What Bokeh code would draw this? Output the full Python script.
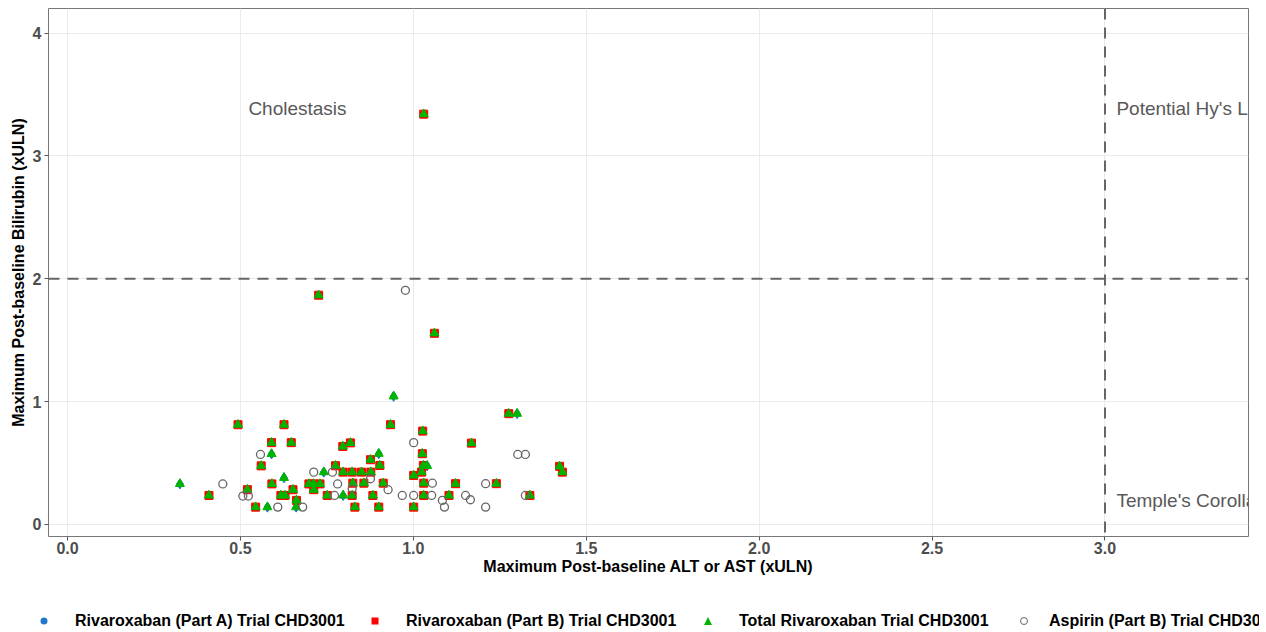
from bokeh.plotting import figure
from bokeh.layouts import column
from bokeh.models import Range1d, FixedTicker, NumeralTickFormatter, Span, Div
from bokeh.core.properties import value
from bokeh.embed import file_html
from bokeh.resources import INLINE

# ---------------- data ----------------
part_b_x = [1.03, 0.726, 1.061, 0.493, 0.626, 0.59, 0.647, 0.56, 0.409, 0.52, 0.591, 0.652,
            0.617, 0.629, 0.662, 0.544, 0.775, 0.797, 0.796, 0.818, 0.698, 0.712, 0.73, 0.712,
            0.751, 0.934, 1.027, 0.876, 1.026, 0.903, 1.029, 0.823, 0.85, 0.877, 1.001, 1.024,
            0.825, 0.857, 0.913, 1.03, 0.823, 0.883, 1.03, 0.831, 0.9, 1.001, 1.276, 1.168,
            1.423, 1.431, 1.122, 1.24, 1.103, 1.337]
part_b_y = [3.34, 1.866, 1.556, 0.812, 0.812, 0.666, 0.666, 0.477, 0.236, 0.283, 0.33, 0.283,
            0.236, 0.236, 0.196, 0.141, 0.478, 0.426, 0.635, 0.664, 0.33, 0.33, 0.33, 0.283,
            0.236, 0.812, 0.76, 0.527, 0.576, 0.48, 0.48, 0.426, 0.426, 0.426, 0.399, 0.426,
            0.336, 0.336, 0.336, 0.336, 0.236, 0.236, 0.236, 0.141, 0.141, 0.141, 0.902, 0.662,
            0.473, 0.426, 0.332, 0.332, 0.236, 0.236]

part_a_x = [0.943, 1.3, 0.59, 0.325, 0.626, 0.578, 0.661, 0.741, 0.9, 0.797, 1.04]
part_a_y = [1.043, 0.902, 0.574, 0.33, 0.38, 0.141, 0.141, 0.426, 0.576, 0.236, 0.477]

aspirin_x = [0.977, 0.558, 0.449, 0.507, 0.523, 0.608, 0.68, 0.712, 0.766, 0.781, 0.772, 1.001,
             0.876, 1.055, 0.823, 0.927, 0.968, 1.001, 1.053, 1.302, 1.324, 1.209, 1.151,
             1.165, 1.084, 1.09, 1.209, 1.324]
aspirin_y = [1.906, 0.57, 0.33, 0.231, 0.231, 0.141, 0.141, 0.426, 0.426, 0.33, 0.236, 0.666,
             0.372, 0.336, 0.291, 0.283, 0.236, 0.236, 0.236, 0.57, 0.57, 0.332, 0.236,
             0.201, 0.196, 0.141, 0.141, 0.236]

total_x = part_a_x + part_b_x
total_y = part_a_y + part_b_y

series_names = ["Rivaroxaban (Part A) Trial CHD3001", "Rivaroxaban (Part B) Trial CHD3001",
                "Total Rivaroxaban Trial CHD3001", "Aspirin (Part B) Trial CHD3001"]

x_ticks = [0.0, 0.5, 1.0, 1.5, 2.0, 2.5, 3.0]
y_ticks = [0, 1, 2, 3, 4]
alt_limit = 3.0
bili_limit = 2.0

quad_labels = ["Cholestasis", "Potential Hy's Law", "Temple's Corollary"]
quad_x = [0.523, 3.033, 3.033]
quad_y = [3.39, 3.39, 0.196]

FONT = "Liberation Sans"
BLUE, RED, GREEN, GREY = "#1F78C8", "#FF0000", "#00B400", "#666666"
W = 1262

# ---------------- main figure ----------------
p = figure(width=W, height=584, output_backend="svg", toolbar_location=None,
           x_range=Range1d(-0.055, 3.415), y_range=Range1d(-0.098, 4.20),
           min_border_left=48, min_border_right=W - 1248, min_border_top=8, min_border_bottom=48)
p.background_fill_color = "white"
p.border_fill_color = "white"
p.outline_line_color = "#777777"
p.outline_line_width = 1

p.xgrid.grid_line_color = "#EBEBEB"
p.ygrid.grid_line_color = "#EBEBEB"

for ax in (p.xaxis[0], p.yaxis[0]):
    ax.axis_line_color = None
    ax.major_tick_line_color = "#555555"
    ax.major_tick_out = 4
    ax.major_tick_in = 0
    ax.minor_tick_line_color = None
    ax.major_label_text_font = FONT
    ax.major_label_text_font_style = "bold"
    ax.major_label_text_font_size = "16px"
    ax.major_label_text_color = "#4D4D4D"
    ax.axis_label_text_font = FONT
    ax.axis_label_text_font_style = "bold"
    ax.axis_label_text_font_size = "16px"
    ax.axis_label_text_color = "black"

p.xaxis.ticker = FixedTicker(ticks=x_ticks)
p.xaxis.formatter = NumeralTickFormatter(format="0.0")
p.yaxis.ticker = FixedTicker(ticks=y_ticks)
p.xaxis.axis_label = "Maximum Post-baseline ALT or AST (xULN)"
p.yaxis.axis_label = "Maximum Post-baseline Bilirubin (xULN)"
p.xaxis.major_label_standoff = 1
p.xaxis.axis_label_standoff = 1
p.yaxis.major_label_standoff = 3
p.yaxis.axis_label_standoff = 3

# reference lines
p.add_layout(Span(location=bili_limit, dimension="width", line_color="#666666",
                  line_width=2, line_dash="11 8"))
p.add_layout(Span(location=alt_limit, dimension="height", line_color="#666666",
                  line_width=2, line_dash="11 8"))

# quadrant labels
p.text(x=quad_x, y=quad_y, text=quad_labels, text_font=value(FONT), text_font_size="19px",
       text_color="#595959", text_baseline="middle", text_align="left")

# points
p.scatter(part_a_x, part_a_y, marker="diamond", size=10, fill_color=BLUE, line_color=BLUE)
p.scatter(part_b_x, part_b_y, marker="square", size=8, fill_color=RED, line_color=RED)
p.scatter(total_x, total_y, marker="triangle", size=9, fill_color=GREEN, line_color=GREEN)
p.scatter(aspirin_x, aspirin_y, marker="circle", size=8, fill_color=None,
          line_color=GREY, line_width=1.3)

# ---------------- legend strip (HTML) ----------------
key_css = [
    f"width:7px;height:7px;border-radius:50%;background:{BLUE};",
    f"width:7px;height:7px;background:{RED};",
    f"width:0;height:0;border-left:4.5px solid transparent;border-right:4.5px solid transparent;"
    f"border-bottom:8px solid {GREEN};",
    f"width:6px;height:6px;border-radius:50%;border:1px solid {GREY};box-sizing:content-box;",
]
key_center = [39, 370, 703, 1019]
label_left = [70, 401, 734, 1044]
ROW_Y = 32

parts = []
for css, cx, lx, name in zip(key_css, key_center, label_left, series_names):
    parts.append(f'<div style="position:absolute;left:{cx}px;top:{ROW_Y}px;'
                 f'transform:translate(-50%,-50%);{css}"></div>')
    parts.append(f'<div style="position:absolute;left:{lx}px;top:{ROW_Y}px;'
                 f'transform:translateY(-50%);white-space:nowrap;font-family:\'{FONT}\';'
                 f'font-weight:bold;font-size:16px;color:black;line-height:1;">{name}</div>')
html = ('<div style="position:relative;width:1254px;height:46px;overflow:hidden;">'
        + "".join(parts) + "</div>")
legend_div = Div(text=html, width=1254, height=46, styles={"overflow": "hidden"})

layout = column(p, legend_div, spacing=0)
open("out.html", "w").write(file_html(layout, INLINE))
